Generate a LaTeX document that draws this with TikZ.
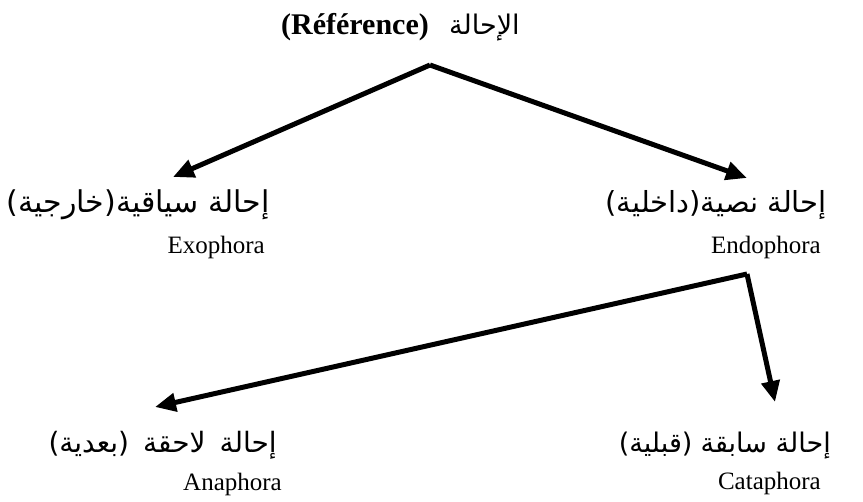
\documentclass[tikz,border=0pt]{standalone}
\usepackage{fontspec}
\setmainfont{Liberation Serif}
\newfontfamily\arabicfont[Script=Arabic]{DejaVu Sans}
\TeXXeTstate=1
\usetikzlibrary{arrows.meta}
\begin{document}
\begin{tikzpicture}[x=1pt,y=-1pt,
  ar/.style={font=\arabicfont\fontsize{29}{32}\selectfont,anchor=base east,inner sep=0pt},
  lat/.style={font=\fontsize{25}{28}\selectfont,anchor=base east,inner sep=0pt},
  conn/.style={line width=5pt,-{Triangle[length=21pt,width=18pt]}}]
\useasboundingbox (0,0) rectangle (863,502);
\node[anchor=base east,inner sep=0pt,font=\bfseries\fontsize{30}{32}\selectfont] (titlefr) at (429,35) {(Référence)};
\node[anchor=base west,inner sep=0pt,font=\arabicfont\fontsize{27}{32}\selectfont] (titlear) at (449,35) {\beginR الإحالة\endR};
\node[ar,font=\arabicfont\fontsize{30}{32}\selectfont] (exoar) at (270,213) {\beginR إحالة سياقية(خارجية)\endR};
\node[ar] (endoar) at (827,213) {\beginR إحالة نصية(داخلية)\endR};
\node[lat] (exo) at (265,254) {Exophora};
\node[lat] (endo) at (821,254) {Endophora};
\node[ar,font=\arabicfont\fontsize{28}{32}\selectfont] (anaar) at (277,453) {\beginR إحالة\hspace{0.5em}لاحقة\hspace{0.5em}(بعدية)\endR};
\node[ar,font=\arabicfont\fontsize{27}{32}\selectfont] (cataar) at (831,453) {\beginR إحالة سابقة\hspace{0.3em}(قبلية)\endR};
\node[lat] (ana) at (282,491) {Anaphora};
\node[lat] (cata) at (821,490) {Cataphora};
\coordinate (apex) at (430,65);
\coordinate (tipL) at (173,177);
\coordinate (tipR) at (747,178);
\coordinate (corner) at (747,274);
\coordinate (tipA) at (155,407);
\coordinate (tipC) at (775,402);
\draw[conn] (apex) -- (tipL);
\draw[conn] (apex) -- (tipR);
\draw[conn] (corner) -- (tipA);
\draw[conn] (corner) -- (tipC);
\end{tikzpicture}
\end{document}
